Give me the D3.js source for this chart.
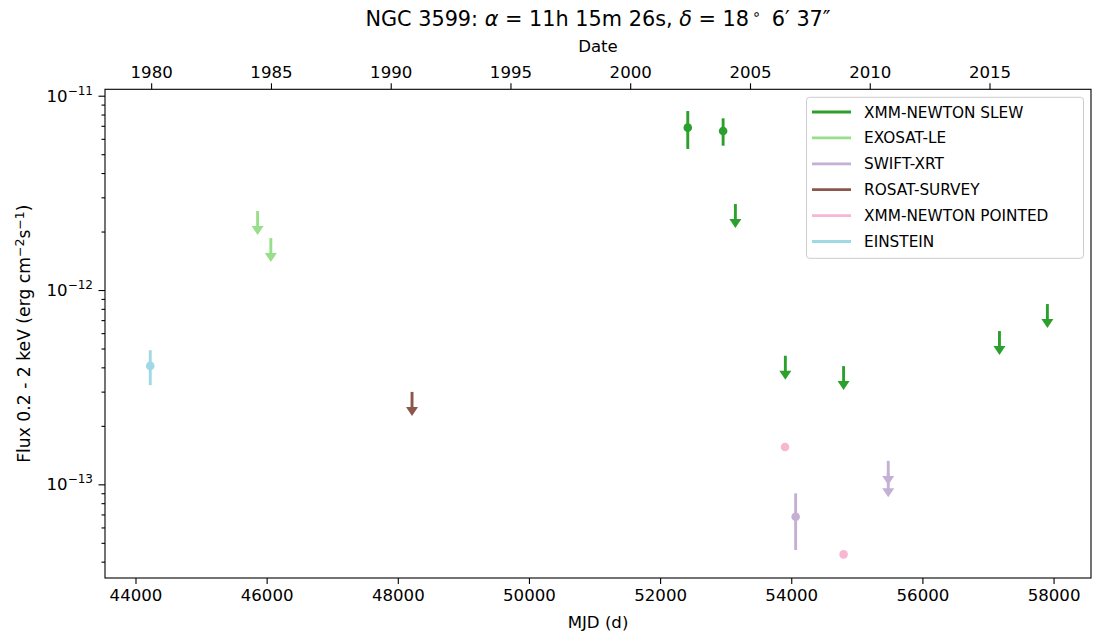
<!DOCTYPE html>
<html><head><meta charset="utf-8">
<script src="https://cdn.jsdelivr.net/npm/d3@7"></script>
<style>
body{margin:0;background:#fff;}
svg{display:block;font-family:"DejaVu Sans",sans-serif;}
</style></head>
<body><svg id="c" width="1093" height="634"></svg>
<script>
// ---------- data ----------
const xTicks = [44000, 46000, 48000, 50000, 52000, 54000, 56000, 58000];
const yearTicks = [1980, 1985, 1990, 1995, 2000, 2005, 2010, 2015];
const yTickExps = [-11, -12, -13];

const seriesNames = ["XMM-NEWTON SLEW", "EXOSAT-LE", "SWIFT-XRT", "ROSAT-SURVEY", "XMM-NEWTON POINTED", "EINSTEIN"];
const seriesColors = ["#2ca02c", "#98df8a", "#c5b0d5", "#8c564b", "#f7b6d2", "#9edae5"];

// XMM-NEWTON SLEW detections and upper limits
const slewMjd = [52422, 52961];
const slewFlux = [6.85e-12, 6.58e-12];
const slewLo = [5.32e-12, 5.53e-12];
const slewHi = [8.34e-12, 7.65e-12];
const slewUlMjd = [53148, 53910, 54798, 57175, 57906];
const slewUl = [2.77e-12, 4.59e-13, 4.06e-13, 6.15e-13, 8.47e-13];
// EXOSAT-LE upper limits
const exosatUlMjd = [45862, 46064];
const exosatUl = [2.55e-12, 1.85e-12];
// SWIFT-XRT
const swiftMjd = [54067];
const swiftFlux = [6.81e-14];
const swiftLo = [4.59e-14];
const swiftHi = [8.99e-14];
const swiftUlMjd = [55479, 55479];
const swiftUl = [1.32e-13, 1.14e-13];
// ROSAT-SURVEY upper limit
const rosatUlMjd = [48217];
const rosatUl = [2.99e-13];
// XMM-NEWTON POINTED
const pointedMjd = [53905, 54798];
const pointedFlux = [1.556e-13, 4.36e-14];
// EINSTEIN
const einsteinMjd = [44225];
const einsteinFlux = [4.07e-13];
const einsteinLo = [3.24e-13];
const einsteinHi = [4.90e-13];

// ---------- layout ----------
const L = 105, R = 1091, T = 89.3, B = 578;
const FS = 16.6;
const svg = d3.select("#c");
const x = d3.scaleLinear().domain([43535, 58571]).range([L, R]);
const y = d3.scaleLog().domain([Math.pow(10, -13.482), Math.pow(10, -10.967)]).range([B, T]);
const mjdOfYear = yr => (Date.UTC(yr, 0, 1) - Date.UTC(1858, 10, 17)) / 86400000;

const gPlot = svg.append("g");

function errPoints(mjd, flux, lo, hi, color) {
  const g = gPlot.append("g");
  mjd.forEach((m, i) => {
    if (lo) g.append("line").attr("x1", x(m)).attr("x2", x(m)).attr("y1", y(lo[i])).attr("y2", y(hi[i]))
      .attr("stroke", color).attr("stroke-width", 2.9);
    g.append("circle").attr("cx", x(m)).attr("cy", y(flux[i])).attr("r", 4.3).attr("fill", color);
  });
}
function upperLimits(mjd, ul, color) {
  const g = gPlot.append("g");
  const len = 24, headH = 9, headW = 12;
  mjd.forEach((m, i) => {
    const px = x(m), py = y(ul[i]);
    g.append("line").attr("x1", px).attr("x2", px).attr("y1", py).attr("y2", py + len - headH + 1)
      .attr("stroke", color).attr("stroke-width", 2.9);
    g.append("path").attr("d", `M${px - headW / 2},${py + len - headH}L${px + headW / 2},${py + len - headH}L${px},${py + len}Z`)
      .attr("fill", color);
  });
}

errPoints(slewMjd, slewFlux, slewLo, slewHi, seriesColors[0]);
upperLimits(slewUlMjd, slewUl, seriesColors[0]);
upperLimits(exosatUlMjd, exosatUl, seriesColors[1]);
errPoints(swiftMjd, swiftFlux, swiftLo, swiftHi, seriesColors[2]);
upperLimits(swiftUlMjd, swiftUl, seriesColors[2]);
upperLimits(rosatUlMjd, rosatUl, seriesColors[3]);
errPoints(pointedMjd, pointedFlux, null, null, seriesColors[4]);
errPoints(einsteinMjd, einsteinFlux, einsteinLo, einsteinHi, seriesColors[5]);

// ---------- frame ----------
svg.append("rect").attr("x", L).attr("y", T).attr("width", R - L).attr("height", B - T)
  .attr("fill", "none").attr("stroke", "#000").attr("stroke-width", 1.1);

function styleAxis(g) {
  g.select(".domain").remove();
  g.selectAll("text").attr("font-size", FS).attr("font-family", "DejaVu Sans").attr("fill", "#000");
  g.selectAll(".tick line").attr("stroke-width", 1.1);
}

// bottom axis
const gx = svg.append("g").attr("transform", `translate(0,${B})`)
  .call(d3.axisBottom(x).tickValues(xTicks).tickFormat(d3.format("d")).tickSize(6).tickPadding(5));
styleAxis(gx);
svg.append("text").attr("x", (L + R) / 2).attr("y", 628).attr("text-anchor", "middle")
  .attr("font-size", FS).text("MJD (d)");

// top axis (dates)
const gt = svg.append("g").attr("transform", `translate(0,${T})`)
  .call(d3.axisTop(x).tickValues(yearTicks.map(mjdOfYear)).tickFormat((d, i) => yearTicks[i]).tickSize(6).tickPadding(5));
styleAxis(gt);
svg.append("text").attr("x", (L + R) / 2).attr("y", 52).attr("text-anchor", "middle")
  .attr("font-size", FS).text("Date");

// left axis (log)
const minor = [];
for (let e = -14; e <= -11; e++) for (let k = 2; k <= 9; k++) {
  const v = k * Math.pow(10, e);
  if (v >= y.domain()[0] && v <= y.domain()[1]) minor.push(v);
}
const gy = svg.append("g").attr("transform", `translate(${L},0)`);
gy.call(d3.axisLeft(y).tickValues(minor).tickSize(3.5).tickFormat(""));
styleAxis(gy);
const gy2 = svg.append("g").attr("transform", `translate(${L},0)`);
gy2.call(d3.axisLeft(y).tickValues(yTickExps.map(e => Math.pow(10, e))).tickSize(6.5).tickFormat(""));
styleAxis(gy2);
yTickExps.forEach(e => {
  const t = svg.append("text").attr("x", 93).attr("y", y(Math.pow(10, e)) + 6).attr("text-anchor", "end")
    .attr("font-size", FS);
  t.append("tspan").text("10");
  t.append("tspan").attr("dy", -7).attr("font-size", 12).text("\u2212" + (-e));
});

// y label
const yl = svg.append("text").attr("transform", `translate(30,${(T + B) / 2}) rotate(-90)`)
  .attr("text-anchor", "middle").attr("font-size", 17.2);
yl.append("tspan").text("Flux 0.2 - 2 keV (erg cm");
yl.append("tspan").attr("dy", -6).attr("font-size", 12.5).text("\u22122");
yl.append("tspan").attr("dy", 6).text("s");
yl.append("tspan").attr("dy", -6).attr("font-size", 12.5).text("\u22121");
yl.append("tspan").attr("dy", 6).text(")");

// title
const tt = svg.append("text").attr("x", (L + R) / 2).attr("y", 26).attr("text-anchor", "middle").attr("font-size", 20.8);
tt.append("tspan").text("NGC 3599: ");
tt.append("tspan").attr("font-style", "italic").text("\u03b1");
tt.append("tspan").text(" = 11h 15m 26s, ");
tt.append("tspan").attr("font-style", "italic").text("\u03b4");
tt.append("tspan").text(" = 18");
tt.append("tspan").attr("dy", -7).attr("font-size", 14.5).text("\u2009\u2218");
tt.append("tspan").attr("dy", 7).text("\u2009 6\u2032 37\u2033");

// legend
const lg = svg.append("g");
lg.append("rect").attr("x", 806.5).attr("y", 97.3).attr("width", 277).attr("height", 161).attr("rx", 3)
  .attr("fill", "#fff").attr("fill-opacity", 0.8).attr("stroke", "#ccc").attr("stroke-width", 1);
seriesNames.forEach((n, i) => {
  const yy = 112 + i * 25.9;
  lg.append("line").attr("x1", 812).attr("x2", 851).attr("y1", yy).attr("y2", yy)
    .attr("stroke", seriesColors[i]).attr("stroke-width", 2.8);
  lg.append("text").attr("x", 864).attr("y", yy + 5.5).attr("font-size", 15.3).text(n);
});
</script></body></html>
